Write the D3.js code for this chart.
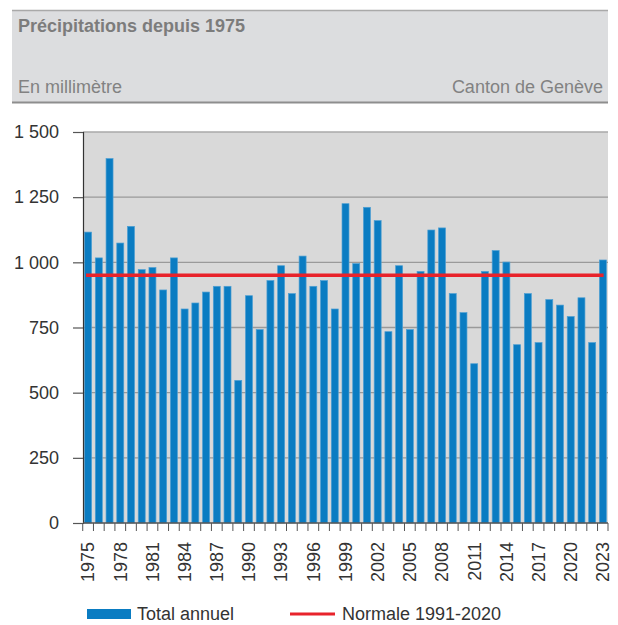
<!DOCTYPE html>
<html><head><meta charset="utf-8">
<script src="https://cdn.jsdelivr.net/npm/d3@7"></script>
<style>
html,body{margin:0;padding:0;background:#fff;}
svg{display:block;font-family:"Liberation Sans",Arial,sans-serif;}
</style></head>
<body>
<svg id="c" width="618" height="625"></svg>
<script>
const years = [1975,1976,1977,1978,1979,1980,1981,1982,1983,1984,1985,1986,1987,1988,1989,1990,1991,1992,1993,1994,1995,1996,1997,1998,1999,2000,2001,2002,2003,2004,2005,2006,2007,2008,2009,2010,2011,2012,2013,2014,2015,2016,2017,2018,2019,2020,2021,2022,2023];
const totals = [1116,1017,1398,1074,1138,972,980,894,1017,821,844,886,908,908,547,872,742,930,987,880,1024,908,930,821,1225,995,1211,1160,734,987,742,965,1124,1132,880,807,611,965,1045,1001,684,880,692,857,836,792,864,692,1009];
const normale = 950;
const yTicks = [0,250,500,750,1000,1250,1500];
const xLabelYears = [1975,1978,1981,1984,1987,1990,1993,1996,1999,2002,2005,2008,2011,2014,2017,2020,2023];
const title = "Précipitations depuis 1975";
const unit = "En millimètre";
const source = "Canton de Genève";
const legendBar = "Total annuel";
const legendLine = "Normale 1991-2020";

const svg = d3.select("#c");
const m = {left:83, right:608, top:132, bottom:523};

// header
svg.append("rect").attr("x",12).attr("y",10).attr("width",596).attr("height",92).attr("fill","#dcdddf");
svg.append("line").attr("x1",12).attr("x2",608).attr("y1",10.5).attr("y2",10.5).attr("stroke","#a9a9a9").attr("stroke-width",1.5);
svg.append("line").attr("x1",12).attr("x2",608).attr("y1",102.5).attr("y2",102.5).attr("stroke","#8e8e8e").attr("stroke-width",2);
svg.append("text").attr("x",18).attr("y",32).attr("font-size",18).attr("font-weight","bold").attr("fill","#7c7c7c").text(title);
svg.append("text").attr("x",18).attr("y",93).attr("font-size",18).attr("fill","#828282").text(unit);
svg.append("text").attr("x",603).attr("y",93).attr("font-size",18).attr("fill","#828282").attr("text-anchor","end").text(source);

const x = d3.scaleBand().domain(years).range([m.left, m.right]).paddingInner(0.35).paddingOuter(0.15);
const y = d3.scaleLinear().domain([0,1500]).range([m.bottom, m.top]);
const fmt = d3.formatLocale({decimal:",", thousands:" ", grouping:[3], currency:["",""]}).format(",d");

// plot background
svg.append("rect").attr("x",m.left).attr("y",m.top).attr("width",m.right-m.left).attr("height",m.bottom-m.top).attr("fill","#d9d9d9");

// gridlines
svg.append("g").selectAll("line").data(yTicks.filter(d=>d>0)).join("line")
  .attr("x1",m.left).attr("x2",m.right).attr("y1",d=>y(d)).attr("y2",d=>y(d))
  .attr("stroke",d=>d===1500?"#a8a8a8":"#9a9a9a").attr("stroke-width",1.3);

// bars
svg.append("g").selectAll("rect").data(years).join("rect")
  .attr("x",(d)=>x(d)).attr("width",x.bandwidth())
  .attr("y",(d,i)=>y(totals[i])).attr("height",(d,i)=>y(0)-y(totals[i]))
  .attr("fill","#0a7cc2").attr("stroke","#4d9fd3").attr("stroke-width",0.7);

// normal line
svg.append("line")
  .attr("x1",x(years[0])+x.bandwidth()*0.2).attr("x2",x(years[years.length-1])+x.bandwidth()*0.6)
  .attr("y1",y(normale)).attr("y2",y(normale))
  .attr("stroke","#e8232b").attr("stroke-width",3.5);

// y axis
const ya = svg.append("g").attr("transform",`translate(${m.left},0)`)
  .call(d3.axisLeft(y).tickValues(yTicks).tickFormat(fmt).tickSize(10).tickPadding(14));
ya.select(".domain").attr("stroke","#333").attr("stroke-width",1.2);
ya.selectAll(".tick line").attr("stroke","#555").attr("stroke-width",1.2);
ya.selectAll(".tick text").attr("font-size",18).attr("fill","#333").attr("font-family","Liberation Sans, Arial, sans-serif");

// x axis
const xa = svg.append("g").attr("transform",`translate(0,${m.bottom})`);
xa.append("line").attr("x1",m.left).attr("x2",m.right).attr("y1",0).attr("y2",0).attr("stroke","#555").attr("stroke-width",1.3);
const step = x.step();
const bounds = years.map(d=>x(d)-(step-x.bandwidth())/2).concat([m.right]);
xa.selectAll("line.tk").data(bounds).join("line").attr("class","tk")
  .attr("x1",d=>d).attr("x2",d=>d).attr("y1",0).attr("y2",8)
  .attr("stroke","#555").attr("stroke-width",1);
xa.selectAll("text").data(xLabelYears).join("text")
  .attr("transform",d=>`translate(${x(d)+x.bandwidth()/2},19) rotate(-90)`)
  .attr("text-anchor","end").attr("dy","0.35em")
  .attr("font-size",18).attr("fill","#333").text(d=>d);

// legend
svg.append("rect").attr("x",87).attr("y",609).attr("width",44).attr("height",10).attr("fill","#0a7cc2");
svg.append("text").attr("x",137).attr("y",620).attr("font-size",18).attr("fill","#333").text(legendBar);
svg.append("line").attr("x1",290).attr("x2",335).attr("y1",614).attr("y2",614).attr("stroke","#e8232b").attr("stroke-width",3);
svg.append("text").attr("x",342).attr("y",620).attr("font-size",18).attr("fill","#333").text(legendLine);
</script>
</body></html>
